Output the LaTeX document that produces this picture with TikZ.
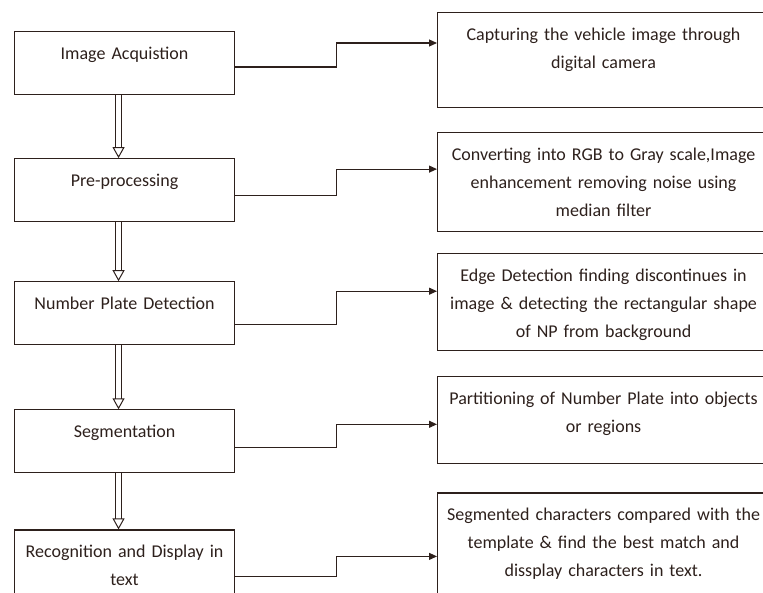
\documentclass[tikz,border=0pt]{standalone}
\usepackage{fontspec}
\setmainfont{Carlito}
\usepackage{xcolor}
\usetikzlibrary{arrows.meta, positioning}
\definecolor{ink}{RGB}{45,32,28}

\begin{document}
\begin{tikzpicture}[
        x=1pt, y=-1pt,
        stage/.style={rectangle, draw=ink, line width=1.1pt, text=ink, text width=210pt, align=center, inner xsep=5pt, inner ysep=0pt, text height=28pt, text depth=35pt, font=\fontsize{18}{28}\selectfont},
        detail/.style={rectangle, draw=ink, line width=1.1pt, text=ink, text width=322pt, align=center, inner xsep=5pt, inner ysep=0pt, text height=28pt, font=\fontsize{18}{28}\selectfont},
        link/.style={draw=ink, line width=1.1pt, -{Triangle[length=8pt, width=7pt]}},
        flow/.style={draw=ink, line width=1pt, double, double distance=5pt, -{Triangle[open, length=11pt, width=12pt, line width=1pt]}}
    ]
        \path[use as bounding box, clip] (0,0) rectangle (763,592);

        % Main vertical flow
        \node (img) [stage, anchor=north west] at (14,31) {Image Acquistion};
        \node (pre) [stage, below=63pt of img] {Pre-processing};
        \node (npd) [stage, below=59pt of pre] {Number Plate Detection};
        \node (seg) [stage, below=64pt of npd] {Segmentation};
        \node (rec) [stage, below=56pt of seg, text depth=60pt] {Recognition and Display in\\ text};

        % Descriptions (right column)
        \node (cap) [detail, anchor=north west, text depth=67pt] at (437,12) {Capturing the vehicle image through\\ digital camera};
        \node (conv) [detail, below=24pt of cap, text depth=71pt] {Converting into RGB to Gray scale,Image\\ enhancement removing noise using\\ median filter};
        \node (edge) [detail, below=21pt of conv, text depth=69pt] {Edge Detection finding discontinues in\\ image \& detecting the rectangular shape\\ of NP from background};
        \node (part) [detail, below=25pt of edge, text depth=59pt] {Partitioning of Number Plate into objects\\ or regions};
        \node (match) [detail, below=28pt of part, text depth=92pt] {Segmented characters compared with the\\ template \& find the best match and\\ dissplay characters in text.};

        % Connect main flow
        \draw [flow] ([xshift=-6pt]img.south) -- ([xshift=-6pt]pre.north);
        \draw [flow] ([xshift=-6pt]pre.south) -- ([xshift=-6pt]npd.north);
        \draw [flow] ([xshift=-6pt]npd.south) -- ([xshift=-6pt]seg.north);
        \draw [flow] ([xshift=-6pt]seg.south) -- ([xshift=-6pt]rec.north);

        % Connect to descriptions
        \draw [link] ([yshift=-36pt]img.north east) -- ++(101,0) |- ([yshift=-31pt]cap.north west);
        \draw [link] ([yshift=-37pt]pre.north east) -- ++(101,0) |- ([yshift=-37pt]conv.north west);
        \draw [link] ([yshift=-43pt]npd.north east) -- ++(101,0) |- ([yshift=-38pt]edge.north west);
        \draw [link] ([yshift=-38pt]seg.north east) -- ++(101,0) |- ([yshift=-48pt]part.north west);
        \draw [link] ([yshift=-47pt]rec.north east) -- ++(101,0) |- ([yshift=-64pt]match.north west);
    \end{tikzpicture}
\end{document}
